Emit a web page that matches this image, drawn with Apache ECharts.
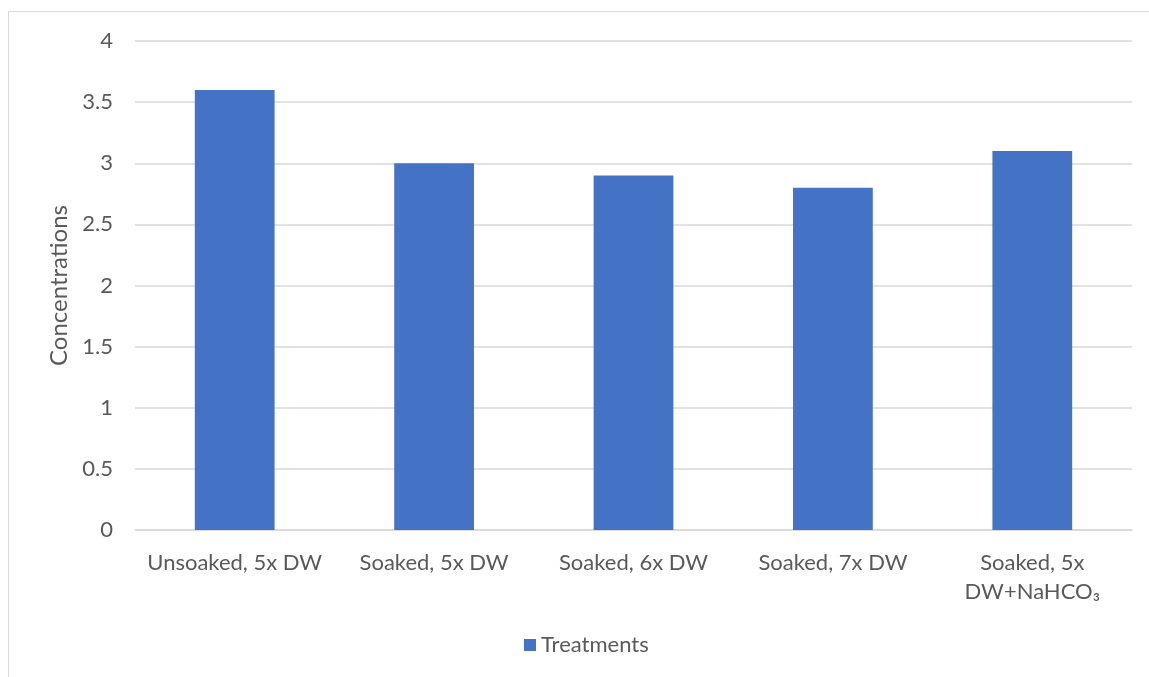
<!DOCTYPE html>
<html><head><meta charset="utf-8">
<script src="https://cdn.jsdelivr.net/npm/echarts@6/dist/echarts.min.js"></script>
<style>html,body{margin:0;padding:0;background:#fff}#c{width:1149px;height:677px}</style>
</head><body><div id="c"></div>
<script>
const categories = ['Unsoaked, 5x DW', 'Soaked, 5x DW', 'Soaked, 6x DW', 'Soaked, 7x DW', 'Soaked, 5x\nDW+NaHCO\u2083'];
const values = [3.6, 3.0, 2.9, 2.8, 3.1];
const seriesName = 'Treatments';
const yAxisName = 'Concentrations';
const yMin = 0, yMax = 4, yStep = 0.5;

const FONT = 'Lato, "Open Sans", "Noto Sans", sans-serif';
const chart = echarts.init(document.getElementById('c'), null, {renderer: 'canvas'});
chart.setOption({
  animation: false,
  backgroundColor: '#fff',
  graphic: [{
    type: 'rect', shape: {x: 8.5, y: 11.5, width: 1200, height: 700},
    style: {fill: 'none', stroke: '#d9d9d9', lineWidth: 1}, silent: true, z: -1
  }],
  grid: {left: 135, right: 17, top: 41, bottom: 147},
  legend: {
    bottom: 21, left: 524, itemWidth: 12, itemHeight: 12, itemGap: 8,
    icon: 'rect', padding: 0,
    textStyle: {fontFamily: FONT, fontSize: 22, color: '#595959'},
    data: [seriesName]
  },
  xAxis: {
    type: 'category', data: categories,
    axisLine: {lineStyle: {color: '#d9d9d9', width: 1.5}},
    axisTick: {show: false},
    axisLabel: {fontFamily: FONT, fontSize: 22, color: '#595959', margin: 18, lineHeight: 29, interval: 0}
  },
  yAxis: {
    type: 'value', min: yMin, max: yMax, interval: yStep,
    name: yAxisName, nameLocation: 'middle', nameGap: 63, nameRotate: 90,
    nameTextStyle: {fontFamily: FONT, fontSize: 24, color: '#595959'},
    axisLine: {show: false}, axisTick: {show: false},
    axisLabel: {fontFamily: FONT, fontSize: 22, color: '#595959', margin: 22},
    splitLine: {lineStyle: {color: '#d9d9d9', width: 1.5}}
  },
  series: [{
    name: seriesName, type: 'bar', data: values, barWidth: '40%',
    itemStyle: {color: '#4472C4'}
  }]
});
</script></body></html>
